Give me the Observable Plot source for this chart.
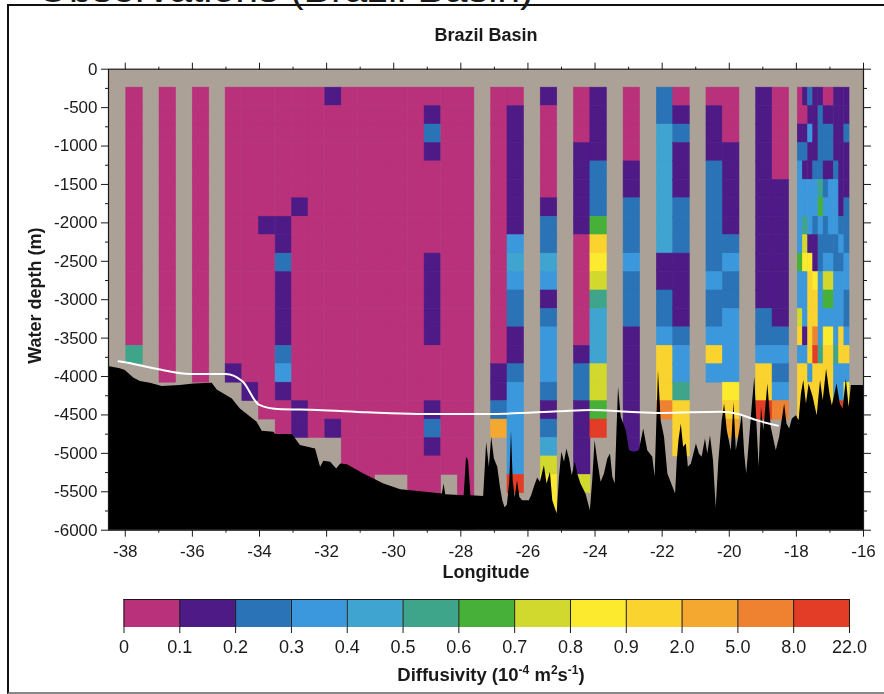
<!DOCTYPE html>
<html><head><meta charset="utf-8">
<script src="https://cdn.jsdelivr.net/npm/d3@7"></script>
<script src="https://cdn.jsdelivr.net/npm/@observablehq/plot@0.6"></script>
<style>
html,body{margin:0;padding:0;background:#fff;width:884px;height:694px;overflow:hidden;font-family:"Liberation Sans",Arial,sans-serif;color:#1a1a1a}
#head{position:absolute;left:37px;top:-32px;font-size:41px;line-height:40px;white-space:nowrap}
#box{position:absolute;left:7px;top:4px;width:878px;height:686px;border-left:2px solid #111;border-top:2px solid #111;border-bottom:2px solid #888}
#main,#bar{position:absolute;left:0;filter:blur(0.45px)}
#main{top:0}#bar{top:590px}
#cap{position:absolute;left:0;width:982px;text-align:center;top:664px;font-size:18.5px;font-weight:bold;line-height:22px;filter:blur(0.3px)}
#cap sup{font-size:12px;line-height:0}
svg text{font-family:"Liberation Sans",Arial,sans-serif}
</style></head><body>
<div id="box"></div>
<div id="head">Observations (Brazil Basin)</div>
<div id="main"></div><div id="bar"></div>
<div id="cap">Diffusivity (10<sup>-4</sup> m<sup>2</sup>s<sup>-1</sup>)</div>
<script>
// colour classes of the diffusivity bar
const binLabels = ["0","0.1","0.2","0.3","0.4","0.5","0.6","0.7","0.8","0.9","2.0","5.0","8.0","22.0"];
const binColors = ["#b9307b","#4e1a86","#2a73b6","#3b98dc","#3fa4d0","#3fa58a","#47b039","#d1d82e","#fcea2e","#fbd32f","#f5a82f","#ee8230","#e33c27"];

// survey columns: west edge (degrees) and class per 240 m bin from 240 m down
// characters are class indices, a=10 b=11 c=12; a string ends where the column has no data
const columnLon = [-37.97,-36.98,-35.99,-35.01,-34.51,-34.02,-33.52,-33.03,-32.54,-32.04,-31.55,-31.05,-30.56,-30.07,-29.57,-29.08,-28.58,-28.09,
  -27.10,-26.61,-25.62,-24.63,-24.14,-23.15,-22.16,-21.67,-20.68,-20.19,-19.20,-18.71];
const columnBins = [
  "000000000000005",
  "0000000000000000",
  "0000000000000000",
  "0000000000000001",
  "00000000000000001",
  "000000010000000000",
  "0000000112111123100",
  "0000001000000000011",
  "0000000000000000000",
  "1000000000000000001",
  "000000000000000000000",
  "0000000000000000000000",
  "000000000000000000000",
  "000000000000000000000",
  "00000000000000000000000",
  "01210000011111000121000",
  "000000000000000000000",
  "000000000000000000000000",
  "000000000000000112a",
  "011111113432211233333c",
  "10000012243123332124788",
  "0001111100000012211117",
  "1111222698754447" + "76c",
  "00001122232221111111",
  "22444444411223" + "999b",
  "012111222111123359" + "99",
  "01112222223223" + "93",
  "00011111232233338" + "9a",
  "111111111111223" + "99c",
  "000001111111123" + "23b"
];
const columnWidth = 0.494;

// the dense cluster east of 18 W, one string per 240 m bin
const denseLon = [-17.96,-17.81,-17.65,-17.50,-17.34,-17.19,-17.04,-16.88,-16.73,-16.57];
const denseWidth = 0.154;
const denseRows = ["0121100111","0011211111","1131222112","2211222111","3112211211","3333523311","3333633312","3532323322","3711222232",
  "6881233223","3398377333","3399366332","7399333332","919b388393","339c599599","9939999333","9999999338","99999999c8"];

// sea floor, west to east
const floorLon = [-38.5,-38.15,-38,-37.75,-37.55,-37.25,-36.9,-36.36,-35.96,-35.41,-35.26,-34.81,-34.57,-34.07,-33.92,-33.57,-33.52,-33.02,-32.78,-32.33,-32.18,-32.08,-31.88,-31.7,-31.58,-31.38,-30.89,-30.29,-29.79,-29.19,-28.55,-28.5,-28.45,-27.9,-27.83,-27.77,-27.7,
  -27.32,-27.23,-27.15,-27.08,-27.00,-26.90,-26.82,-26.75,-26.68,-26.61,-26.54,-26.49,-26.44,-26.38,-26.31,-26.24,-26.16,-25.96,-25.89,-25.81,-25.71,-25.63,-25.51,-25.43,-25.33,-25.26,-25.13,-25.06,-24.99,-24.91,-24.84,-24.76,-24.68,-24.59,-24.50,-24.42,-24.27,-24.14,-24.07,-24.00,-23.92,-23.82,-23.72,-23.62,-23.54,-23.47,-23.40,-23.35,-23.30,-23.22,-23.07,-22.97,-22.82,-22.68,-22.55,-22.43,-22.28,-22.21,-22.11,-22.03,-21.93,-21.83,
  -21.60,-21.55,-21.50,-21.43,-21.36,-21.28,-21.22,-21.13,-20.98,-20.89,-20.81,-20.71,-20.64,-20.56,-20.47,-20.39,-20.31,-20.21,-20.14,-20.06,-19.94,-19.86,-19.79,-19.67,-19.61,-19.54,-19.48,-19.39,-19.31,-19.24,-19.17,-19.11,-19.04,-18.97,-18.85,-18.75,-18.60,-18.50,-18.35,-18.28,-18.20,-18.12,-18.00,-17.92,-17.85,-17.78,-17.70,-17.62,-17.50,-17.38,-17.28,-17.20,-17.10,-17.00,-16.93,-16.87,-16.79,-16.69,-16.61,-16.51,-16.43,-16.36,-16];
const floorDepth = [3870,3900,3923,4018,4066,4088,4131,4118,4096,4088,4174,4291,4422,4596,4713,4726,4756,4756,4899,4942,5182,5104,5117,5203,5138,5147,5268,5398,5472,5498,5528,5398,5537,5550,5052,5095,5550,
  5560,4857,5182,4791,5074,5182,5442,5616,5711,5668,5356,4705,5356,5573,5356,5573,5616,5616,5551,5442,5321,5377,5160,5399,5247,5616,5790,5312,4987,5117,4943,5074,5291,5117,5291,5399,5529,5746,5356,4835,5095,5377,5269,5074,5008,5312,5399,4748,4140,4531,4705,4965,4987,4965,4683,4965,5052,5312,3923,4574,4791,5269,
  5529,5095,4835,4618,4921,4878,5182,5139,4878,5008,5052,4813,5008,4770,5095,5703,5095,4574,4357,4704,4965,4336,4965,4661,4487,5008,5269,4791,4357,4010,4661,5182,4401,4704,4097,4661,4965,4791,4357,4618,4683,4553,4509,4574,4227,4053,4357,4097,4270,4509,4053,4314,3902,4227,4379,4270,4097,4357,4422,4032,4401,4118,4118];

// white section line
const lineLon = [-38.2,-37.75,-37.05,-36.06,-35.01,-34.5,-34.02,-33.47,-32.28,-30.79,-29.3,-27.1,-25.1,-24.12,-23.02,-22.03,-20.24,-19.74,-19.14,-18.55];
const lineDepth = [3802,3836,3901,3966,3966,4066,4366,4422,4435,4466,4487,4487,4453,4435,4457,4474,4457,4487,4574,4639];

const depthTicks = d3.range(0,-6001,-500);
const depthMinor = d3.range(-250,-6000,-500);
const lonTicks = [-38,-36,-34,-32,-30,-28,-26,-24,-22,-20,-18,-16];
const lonMinor = [-37,-35,-33,-31,-29,-27,-25,-23,-21,-19,-17];

const rowStep = 240;
const cells = [];
columnBins.forEach((s,c)=>[...s].forEach((ch,i)=>cells.push({x1:columnLon[c],x2:columnLon[c]+columnWidth,y1:-rowStep*(i+1),y2:-rowStep*(i+2),bin:parseInt(ch,16)})));
denseRows.forEach((s,i)=>[...s].forEach((ch,c)=>cells.push({x1:denseLon[c],x2:denseLon[c]+denseWidth,y1:-rowStep*(i+1),y2:-rowStep*(i+2),bin:parseInt(ch,16)})));
const floor = floorLon.map((lon,i)=>({lon,depth:-floorDepth[i]}));
const section = lineLon.map((lon,i)=>({lon,depth:-lineDepth[i]}));
const blank = ()=>"";
const colorScale = {type:"ordinal",domain:d3.range(13),range:binColors};
const ink = "#1a1a1a";

document.getElementById("main").append(Plot.plot({
  width:884,height:600,marginLeft:108,marginRight:21,marginTop:68.7,marginBottom:70.3,
  style:{background:"transparent",fontSize:"17px",color:ink,overflow:"visible"},
  x:{domain:[-38.5,-16]},y:{domain:[-6000,0]},color:colorScale,
  marks:[
    Plot.frame({fill:"#aca196",stroke:null}),
    Plot.rect(cells,{x1:"x1",x2:"x2",y1:"y1",y2:"y2",fill:"bin",stroke:"bin",strokeWidth:0.5}),
    Plot.areaY(floor,{x:"lon",y1:-6000,y2:"depth",fill:"#000"}),
    Plot.line(section,{x:"lon",y:"depth",stroke:"#fff",strokeWidth:2,curve:"monotone-x"}),
    Plot.frame({stroke:ink,strokeWidth:1.2}),
    Plot.axisX({anchor:"bottom",ticks:lonTicks,tickSize:7,tickPadding:8,tickFormat:d=>String(d),label:null,stroke:ink,fill:ink}),
    Plot.axisX({anchor:"bottom",ticks:lonMinor,tickSize:3,tickFormat:blank,label:null,stroke:ink}),
    Plot.axisX({anchor:"top",ticks:lonTicks,tickSize:7,tickFormat:blank,label:null,stroke:ink}),
    Plot.axisX({anchor:"top",ticks:lonMinor,tickSize:3,tickFormat:blank,label:null,stroke:ink}),
    Plot.axisY({anchor:"left",ticks:depthTicks,tickSize:7,tickPadding:4,tickFormat:d=>String(d),label:null,stroke:ink,fill:ink}),
    Plot.axisY({anchor:"left",ticks:depthMinor,tickSize:3,tickFormat:blank,label:null,stroke:ink}),
    Plot.axisY({anchor:"right",ticks:depthTicks,tickSize:7,tickFormat:blank,label:null,stroke:ink}),
    Plot.axisY({anchor:"right",ticks:depthMinor,tickSize:3,tickFormat:blank,label:null,stroke:ink}),
    Plot.text(["Longitude"],{frameAnchor:"bottom",dy:48,fontWeight:"bold",fontSize:18,fill:ink}),
    Plot.text(["Water depth (m)"],{frameAnchor:"left",textAnchor:"middle",dx:-73,dy:-4,rotate:-90,fontWeight:"bold",fontSize:18,fill:ink}),
    Plot.text(["Brazil Basin"],{frameAnchor:"top",dy:-41,fontWeight:"bold",fontSize:18,fill:ink})
  ]
}));

const barCells = binColors.map((c,i)=>({a:i,b:i+1,bin:i}));
document.getElementById("bar").append(Plot.plot({
  width:884,height:65,marginLeft:123.5,marginRight:35,marginTop:9,marginBottom:28,
  style:{background:"transparent",fontSize:"18px",color:ink,overflow:"visible"},
  x:{domain:[0,13]},color:colorScale,
  marks:[
    Plot.rect(barCells,{x1:"a",x2:"b",fill:"bin"}),
    Plot.ruleX(d3.range(14),{stroke:ink,strokeWidth:1}),
    Plot.frame({anchor:"top",stroke:ink}),
    Plot.axisX({anchor:"bottom",ticks:d3.range(14),tickSize:6,tickPadding:7,tickFormat:i=>binLabels[i],label:null,stroke:ink,fill:ink})
  ]
}));
</script>
</body></html>
